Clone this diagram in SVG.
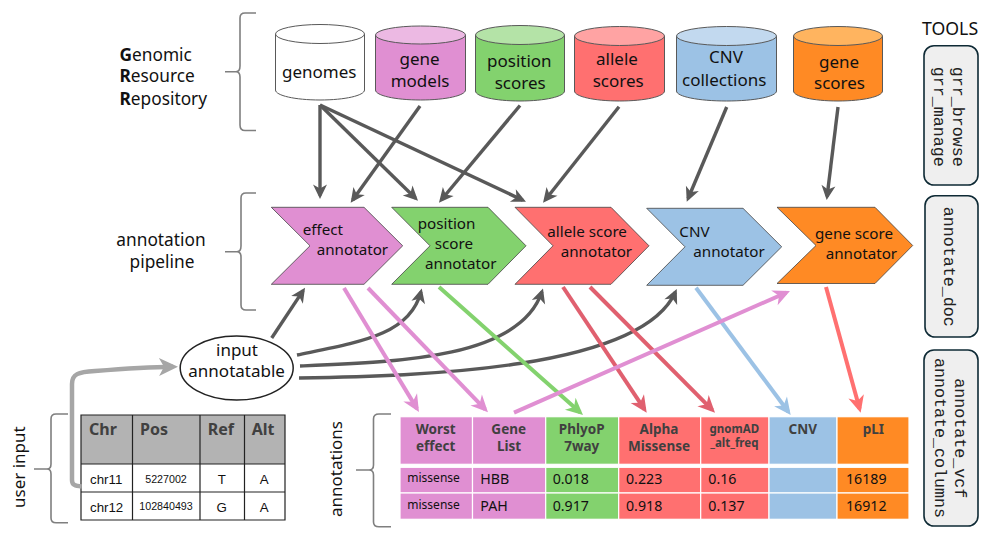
<svg xmlns="http://www.w3.org/2000/svg" width="988" height="535" viewBox="0 0 988 535">
<style>
text{font-family:"Noto Sans","Open Sans",sans-serif;fill:#111}
.l{font-size:17.300px}
.lv{font-size:17px}
.c{font-size:17px}
.a{font-size:15.200px}
.m{font-family:"Liberation Mono",monospace;font-size:16.670px;fill:#222}
.h{font-size:13.500px;font-weight:700;fill:#404040;text-anchor:middle}
.th{font-size:16px;font-weight:700;fill:#404040}
.ar{font-family:"Liberation Sans",Arial,sans-serif;font-size:13.300px}
.ar2{font-family:"Liberation Sans",Arial,sans-serif;font-size:10.700px}
.mid{text-anchor:middle}
.v{font-size:14.200px}
.ms{font-size:12px}
.brace{fill:none;stroke:#7f7f7f;stroke-width:1.600}
.cyl{stroke:#595959;stroke-width:1}
.chev{stroke:#444;stroke-width:.8}
.tool{fill:#efefef;stroke:#0e2a35;stroke-width:1.600}
.ln{fill:none;stroke-width:4}
.d{stroke:#595959;stroke-width:3.400;marker-end:url(#md)}
.pk{stroke:#E08FD2;marker-end:url(#mp)}
.gn{stroke:#83D26E;marker-end:url(#mg)}
.rd{stroke:#E0606F;marker-end:url(#mr)}
.bl{stroke:#9CC2E5;marker-end:url(#mb)}
.sa{stroke:#FF7070;marker-end:url(#ms)}
.gy{stroke:#A6A6A6;stroke-width:4.500;marker-end:url(#my)}
.tb{stroke:#222;stroke-width:1.200}
.cell{stroke:#fff;stroke-width:1.200}
</style>
<defs>
<marker id="md" markerUnits="userSpaceOnUse" markerWidth="17" markerHeight="17" viewBox="0 0 17 17" refX="12" refY="8.500" orient="auto"><path d="M15.500 8.500L1 1.500L5 8.500L1 15.500z" fill="#595959"/></marker>
<marker id="mp" markerUnits="userSpaceOnUse" markerWidth="20" markerHeight="20" viewBox="0 0 20 20" refX="14" refY="10" orient="auto"><path d="M18 10L1 2L6 10L1 18z" fill="#E08FD2"/></marker>
<marker id="mg" markerUnits="userSpaceOnUse" markerWidth="20" markerHeight="20" viewBox="0 0 20 20" refX="14" refY="10" orient="auto"><path d="M18 10L1 2L6 10L1 18z" fill="#83D26E"/></marker>
<marker id="mr" markerUnits="userSpaceOnUse" markerWidth="20" markerHeight="20" viewBox="0 0 20 20" refX="14" refY="10" orient="auto"><path d="M18 10L1 2L6 10L1 18z" fill="#E0606F"/></marker>
<marker id="mb" markerUnits="userSpaceOnUse" markerWidth="20" markerHeight="20" viewBox="0 0 20 20" refX="14" refY="10" orient="auto"><path d="M18 10L1 2L6 10L1 18z" fill="#9CC2E5"/></marker>
<marker id="ms" markerUnits="userSpaceOnUse" markerWidth="20" markerHeight="20" viewBox="0 0 20 20" refX="14" refY="10" orient="auto"><path d="M18 10L1 2L6 10L1 18z" fill="#FF7070"/></marker>
<marker id="my" markerUnits="userSpaceOnUse" markerWidth="22" markerHeight="22" viewBox="0 0 22 22" refX="15" refY="11" orient="auto"><path d="M20 11L1 2L6 11L1 20z" fill="#A6A6A6"/></marker>
</defs>

<g id="labels">
<text class="l" x="119.500" y="61"><tspan font-weight="700">G</tspan>enomic</text>
<text class="l" x="119.500" y="82"><tspan font-weight="700">R</tspan>esource</text>
<text class="l" x="119.500" y="104.500"><tspan font-weight="700">R</tspan>epository</text>
<text class="l" x="161" y="246" text-anchor="middle">annotation</text>
<text class="l" x="162" y="268" text-anchor="middle">pipeline</text>
<text class="lv" transform="translate(25 508) rotate(-90)">user input</text>
<text class="lv" transform="translate(341.700 517) rotate(-90)">annotations</text>
<text x="922" y="34.700" style="font-size:17.700px">TOOLS</text>
</g>

<g id="braces">
<path class="brace" d="M256 13H245Q240 13 240 18V66Q240 71.700 236 71.700H225M236 71.700Q240 71.700 240 77V125Q240 130.500 245 130.500H256"/>
<path class="brace" d="M256 193H246Q241 193 241 198V246Q241 251.700 237 251.700H225M237 251.700Q241 251.700 241 257V305Q241 310 246 310H256"/>
<path class="brace" d="M68 414H56Q51 414 51 419V464Q51 469 47 469H34M47 469Q51 469 51 474V518Q51 522.700 56 522.700H68"/>
<path class="brace" d="M391 414H379Q373.500 414 373.500 419V465Q373.500 470 369 470H356M369 470Q373.500 470 373.500 475V522Q373.500 526.700 379 526.700H391"/>
</g>

<g id="node-genomes">
<path class="cyl" fill="#fff" d="M275.500 34V90C275.500 95.500 295 100 320 100S364.500 95.500 364.500 90V34"/>
<ellipse class="cyl" cx="320" cy="34" rx="44.500" ry="9.500" fill="#fff"/>
<text class="c" x="282" y="77.700">genomes</text>
</g>
<g id="node-gene-models">
<path class="cyl" fill="#E08FD2" d="M375.500 35V90C375.500 95.500 395 100 420.500 100S465.500 95.500 465.500 90V35"/>
<ellipse class="cyl" cx="420.500" cy="35" rx="45" ry="9" fill="#ECB9E3"/>
<text class="c" x="399.500" y="65">gene</text><text class="c" x="390.700" y="87">models</text>
</g>
<g id="node-position-scores">
<path class="cyl" fill="#83D26E" d="M475.500 35V91C475.500 96.500 495 101 520 101S564.500 96.500 564.500 91V35"/>
<ellipse class="cyl" cx="520" cy="35" rx="44.500" ry="9.500" fill="#B4E3A7"/>
<text class="c" x="487" y="67">position</text><text class="c" x="494.700" y="89">scores</text>
</g>
<g id="node-allele-scores">
<path class="cyl" fill="#FF7070" d="M574.500 36V91C574.500 96.500 594 101 619.500 101S664.500 96.500 664.500 91V36"/>
<ellipse class="cyl" cx="619.500" cy="36" rx="45" ry="9.500" fill="#FFA3A3"/>
<text class="c" x="596" y="65">allele</text><text class="c" x="592.700" y="87">scores</text>
</g>
<g id="node-cnv-collections">
<path class="cyl" fill="#9CC2E5" d="M676.500 36V91C676.500 96.500 698 101 726.500 101S776.500 96.500 776.500 91V36"/>
<ellipse class="cyl" cx="726.500" cy="36" rx="50" ry="9.500" fill="#C2D9EF"/>
<text class="c" x="709" y="63">CNV</text><text class="c" x="682" y="85.700">collections</text>
</g>
<g id="node-gene-scores">
<path class="cyl" fill="#FF8A24" d="M793.500 36V91C793.500 96.500 813 101 838 101S882.500 96.500 882.500 91V36"/>
<ellipse class="cyl" cx="838" cy="36" rx="44.500" ry="9.500" fill="#FFB45F"/>
<text class="c" x="819" y="67.700">gene</text><text class="c" x="814" y="89">scores</text>
</g>

<g id="node-effect-annotator">
<path class="chev" fill="#E08FD2" d="M271.300 207.300H364L402.700 245.800L364 284.300H271.300L310 245.800z"/>
<text class="a" x="302.700" y="235">effect</text><text class="a" x="316.700" y="255">annotator</text>
</g>
<g id="node-position-annotator">
<path class="chev" fill="#83D26E" d="M391.700 207.300H488L526 245.800L488 284.300H391.700L430 245.800z"/>
<text class="a" x="417.700" y="229">position</text><text class="a" x="434.700" y="249">score</text><text class="a" x="425" y="269">annotator</text>
</g>
<g id="node-allele-annotator">
<path class="chev" fill="#FF7070" d="M515 207.300H611L649 245.800L611 284.300H515L553 245.800z"/>
<text class="a" x="547.300" y="236.700">allele score</text><text class="a" x="560.700" y="256.700">annotator</text>
</g>
<g id="node-cnv-annotator">
<path class="chev" fill="#9CC2E5" d="M646.700 208.300H743L781.700 246.800L743 285.300H646.700L685 246.800z"/>
<text class="a" x="679.300" y="236.700">CNV</text><text class="a" x="693.300" y="256.700">annotator</text>
</g>
<g id="node-gene-annotator">
<path class="chev" fill="#FF8A24" d="M777 207.300H875L912.700 245.500L875 283.500H777L816 245.500z"/>
<text class="a" x="815" y="239">gene score</text><text class="a" x="825.700" y="258.800">annotator</text>
</g>

<g id="node-input-table">
<rect x="81" y="415" width="204" height="49" fill="#B3B3B3"/>
<rect x="81" y="464" width="204" height="56" fill="#fff"/>
<path class="tb" fill="none" d="M81 415H285V520H81ZM81 464H285M81 492H285M132.500 415V520M200 415V520M244.500 415V520"/>
<text class="th" x="89" y="435">Chr</text><text class="th" x="140" y="435">Pos</text><text class="th" x="207.700" y="435">Ref</text><text class="th" x="251.700" y="435">Alt</text>
<text class="ar" x="90" y="484">chr11</text><text class="ar2 mid" x="166" y="482.500">5227002</text><text class="ar mid" x="221.700" y="484">T</text><text class="ar mid" x="264.300" y="484">A</text>
<text class="ar" x="90" y="511.700">chr12</text><text class="ar2 mid" x="166" y="510">102840493</text><text class="ar mid" x="221.700" y="511.700">G</text><text class="ar mid" x="264.300" y="511.700">A</text>
</g>

<g id="node-annotations-table">
<g class="cell">
<rect x="400" y="416.700" width="72.500" height="47.600" fill="#E08FD2"/><rect x="472.500" y="416.700" width="73.200" height="47.600" fill="#E08FD2"/><rect x="545.700" y="416.700" width="73" height="47.600" fill="#83D26E"/><rect x="618.700" y="416.700" width="82" height="47.600" fill="#FF7070"/><rect x="700.700" y="416.700" width="68.300" height="47.600" fill="#FF7070"/><rect x="769" y="416.700" width="68" height="47.600" fill="#9CC2E5"/><rect x="837" y="416.700" width="72" height="47.600" fill="#FF8A24"/>
<rect x="400" y="467.300" width="72.500" height="25.700" fill="#E08FD2"/><rect x="472.500" y="467.300" width="73.200" height="25.700" fill="#E08FD2"/><rect x="545.700" y="467.300" width="73" height="25.700" fill="#83D26E"/><rect x="618.700" y="467.300" width="82" height="25.700" fill="#FF7070"/><rect x="700.700" y="467.300" width="68.300" height="25.700" fill="#FF7070"/><rect x="769" y="467.300" width="68" height="25.700" fill="#9CC2E5"/><rect x="837" y="467.300" width="72" height="25.700" fill="#FF8A24"/>
<rect x="400" y="493" width="72.500" height="26.300" fill="#E08FD2"/><rect x="472.500" y="493" width="73.200" height="26.300" fill="#E08FD2"/><rect x="545.700" y="493" width="73" height="26.300" fill="#83D26E"/><rect x="618.700" y="493" width="82" height="26.300" fill="#FF7070"/><rect x="700.700" y="493" width="68.300" height="26.300" fill="#FF7070"/><rect x="769" y="493" width="68" height="26.300" fill="#9CC2E5"/><rect x="837" y="493" width="72" height="26.300" fill="#FF8A24"/>
</g>
<text class="h" x="435.700" y="434.300">Worst</text><text class="h" x="435.700" y="451">effect</text>
<text class="h" x="508.700" y="434.300">Gene</text><text class="h" x="509" y="451">List</text>
<text class="h" x="581.700" y="434.300">PhlyoP</text><text class="h" x="581.700" y="451">7way</text>
<text class="h" x="659" y="434.300">Alpha</text><text class="h" x="659" y="451">Missense</text>
<text class="h" x="734.300" y="432.700" style="font-size:11.500px">gnomAD</text><text class="h" x="734.300" y="447.300" style="font-size:11.500px">_alt_freq</text>
<text class="h" x="802.700" y="434.300">CNV</text><text class="h" x="873.300" y="434.300">pLI</text>
<text class="ms" x="407.300" y="481.700">missense</text><text class="v" x="480.300" y="484">HBB</text><text class="v" x="552.700" y="484">0.018</text><text class="v" x="626" y="484">0.223</text><text class="v" x="708.300" y="484">0.16</text><text class="v" x="846" y="484">16189</text>
<text class="ms" x="407.300" y="509">missense</text><text class="v" x="480.300" y="510.700">PAH</text><text class="v" x="552.700" y="510.700">0.917</text><text class="v" x="626" y="510.700">0.918</text><text class="v" x="708.300" y="510.700">0.137</text><text class="v" x="846" y="510.700">16912</text>
</g>

<g id="node-tools-grr">
<rect class="tool" x="924" y="45.700" width="54" height="139.300" rx="10"/>
<text class="m" transform="translate(953.300 66.700) rotate(90)">grr_browse</text>
<text class="m" transform="translate(934 66.700) rotate(90)">grr_manage</text>
</g>
<g id="node-tools-doc">
<rect class="tool" x="925" y="195.700" width="53" height="141.300" rx="10"/>
<text class="m" transform="translate(944 206.700) rotate(90)">annotate_doc</text>
</g>
<g id="node-tools-vcf">
<rect class="tool" x="924" y="350" width="54" height="176" rx="10"/>
<text class="m" transform="translate(955 378.300) rotate(90)">annotate_vcf</text>
<text class="m" transform="translate(935 358) rotate(90)">annotate_columns</text>
</g>

<g id="connectors">
<path class="ln d" d="M320 105V195.500"/>
<path class="ln d" d="M320 105L415.500 198.200"/>
<path class="ln d" d="M320 105L522.800 200.200"/>
<path class="ln d" d="M420 106L352.700 199.900"/>
<path class="ln d" d="M520 105.500L441.200 200"/>
<path class="ln d" d="M619 106.700L545.200 200"/>
<path class="ln d" d="M726.700 107L688.100 198.500"/>
<path class="ln d" d="M838 107L827.100 196.500"/>
<path class="ln d" d="M271.700 338L303.100 290.600"/>
<path class="ln d" d="M297 355C360 342 410 335 420.900 291.900"/>
<path class="ln d" d="M300 366C400 362 520 358 541.900 291.800"/>
<path class="ln d" d="M299 378C420 376 640 370 675.300 292.200"/>
<path class="ln pk" d="M344 288L416.900 408.600"/>
<path class="ln pk" d="M368 288L485.200 409.400"/>
<path class="ln gn" d="M439 287L580 412.300"/>
<path class="ln rd" d="M563 287L644.500 409.400"/>
<path class="ln rd" d="M590 287L712.200 409.900"/>
<path class="ln bl" d="M696 287.700L788.300 411.800"/>
<path class="ln sa" d="M826 287L859.600 408.800"/>
<path class="ln pk" d="M514 412.700L786.300 292.600"/>
<path class="ln gy" d="M81.700 486.500C75 486 72 485 72 480V384C72 374 78 372 95 371C120 369 150 367 173 366.700"/>
</g>

<g id="node-input-annotatable">
<ellipse cx="236.700" cy="368" rx="56.500" ry="32" fill="#fff" stroke="#222" stroke-width="1.500"/>
<text class="c" x="216" y="355.700">input</text>
<text class="c" x="188.300" y="377.300">annotatable</text>
</g>
</svg>
